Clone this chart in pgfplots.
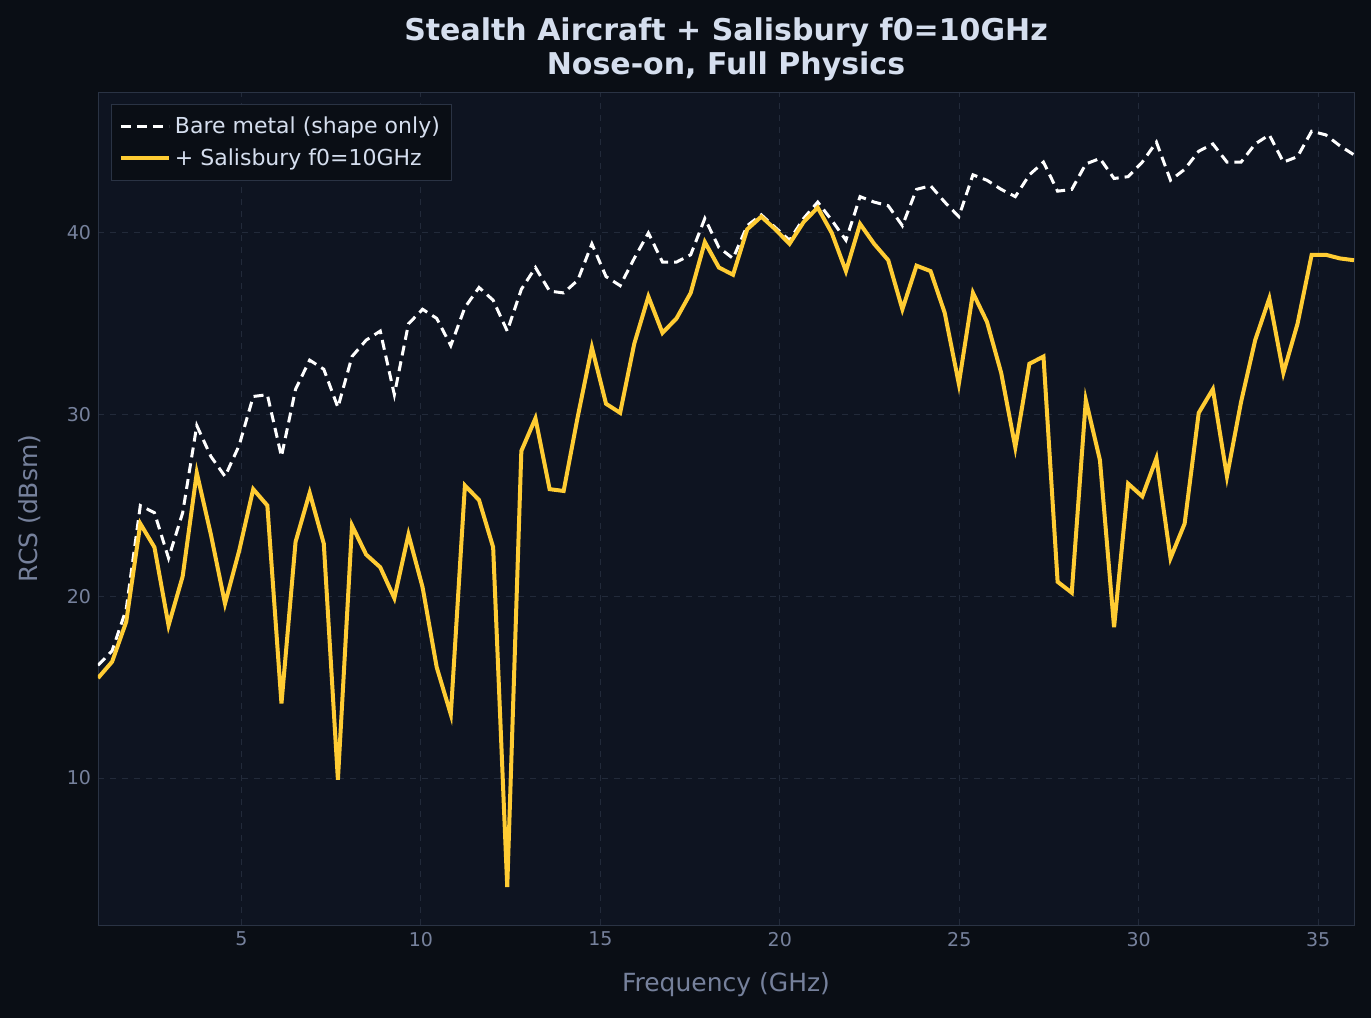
\documentclass[border=0pt]{standalone}
\usepackage{pgfplots}
\pgfplotsset{compat=1.18}
\usepackage{fontspec}
\setmainfont{DejaVu Sans}
\definecolor{figbg}{HTML}{0A0E15}
\definecolor{axbg}{HTML}{0E1421}
\definecolor{tick}{HTML}{76819C}
\definecolor{ttl}{HTML}{D5DEEE}
\definecolor{grd}{HTML}{222A3A}
\definecolor{frame}{HTML}{2A3344}
\definecolor{gold}{HTML}{FFCC33}
\begin{document}
\begin{tikzpicture}[x=1pt,y=1pt]
\fill[figbg] (0,0) rectangle (685.5,509);
\begin{axis}[at={(49pt,46.5pt)},anchor=south west,scale only axis,
 width=628pt,height=416.5pt,xmin=1,xmax=36,ymin=1.91,ymax=47.76,
 axis background/.style={fill=axbg},
 axis line style={frame},
 xtick={5,10,...,35},ytick={10,20,30,40},
 tick style={draw=none},
 ticklabel style={font=\fontsize{9.5}{10}\selectfont,text=tick},
 /pgf/number format/assume math mode=true,
 grid=major,grid style={grd,dashed,line width=0.5pt},
 xlabel={Frequency (GHz)},ylabel={RCS (dBsm)},
 xlabel style={yshift=-6pt},ylabel style={yshift=6pt},
 label style={font=\fontsize{12.5}{13}\selectfont,text=tick},
 title style={font=\bfseries\fontsize{15}{17}\selectfont,text=ttl,align=center,yshift=-4pt},
 title={Stealth Aircraft + Salisbury f0=10GHz\\Nose-on, Full Physics},
 legend style={at={(0.01,0.985)},anchor=north west,fill=figbg,draw=frame,text=ttl,
   font=\fontsize{11}{13}\selectfont,row sep=2pt,inner sep=4pt},
 legend image code/.code={\draw[#1] (0pt,0pt) -- (24pt,0pt);},
 legend cell align=left,
]
\addplot[white,dashed,line width=1.5pt,dash pattern=on 5pt off 3pt] table[x expr=1+\coordindex*35/89,y index=0]{
y
16.2
17.0
19.3
25.0
24.6
22.1
24.6
29.4
27.7
26.6
28.3
31.0
31.1
27.7
31.4
33.0
32.5
30.4
33.2
34.1
34.6
31.1
35.0
35.8
35.3
33.8
35.9
37.0
36.3
34.6
36.9
38.1
36.8
36.7
37.4
39.4
37.6
37.1
38.6
40.0
38.4
38.4
38.8
40.8
39.2
38.6
40.4
41.0
40.3
39.6
40.8
41.7
40.7
39.6
42.0
41.7
41.5
40.4
42.4
42.6
41.7
40.9
43.2
42.9
42.4
42.0
43.2
43.9
42.3
42.4
43.8
44.1
43.0
43.1
43.9
45.0
42.9
43.5
44.5
44.9
43.9
43.9
44.9
45.4
43.9
44.2
45.6
45.4
44.8
44.3
};
\addlegendentry{Bare metal (shape only)}
\addplot[gold,line width=2pt] table[x expr=1+\coordindex*35/89,y index=0]{
y
15.5
16.4
18.6
24.0
22.7
18.4
21.1
26.8
23.4
19.6
22.5
25.9
25.0
14.1
23.0
25.7
22.9
9.9
23.9
22.3
21.6
19.9
23.4
20.5
16.1
13.5
26.1
25.3
22.7
4.0
28.0
29.8
25.9
25.8
29.9
33.7
30.6
30.1
33.9
36.5
34.5
35.3
36.7
39.5
38.1
37.7
40.2
40.9
40.2
39.4
40.6
41.4
40.0
37.9
40.5
39.4
38.5
35.8
38.2
37.9
35.6
31.7
36.7
35.1
32.3
28.2
32.8
33.2
20.8
20.2
30.8
27.5
18.3
26.2
25.5
27.6
22.1
24.0
30.1
31.4
26.6
30.7
34.1
36.4
32.3
35.0
38.8
38.8
38.6
38.5
};
\addlegendentry{+ Salisbury f0=10GHz}
\end{axis}
\end{tikzpicture}
\end{document}
